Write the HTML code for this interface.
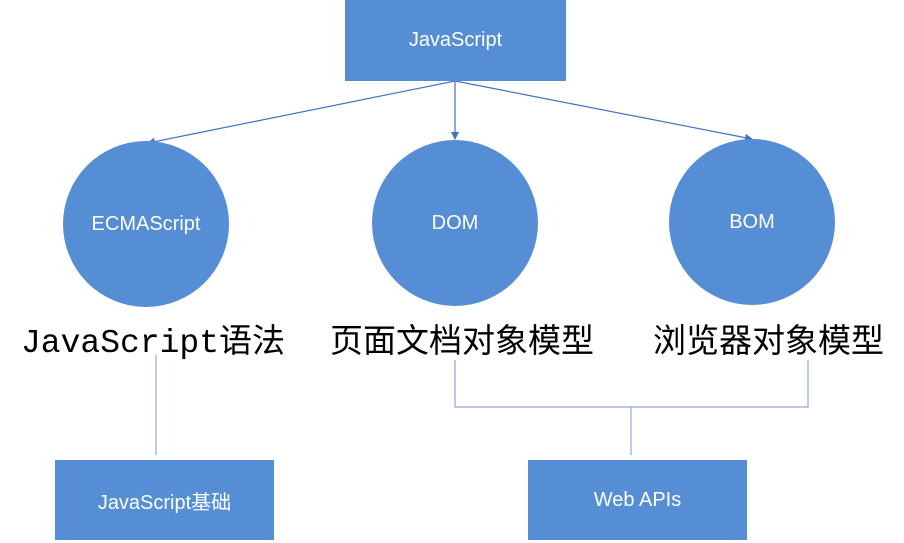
<!DOCTYPE html>
<html><head><meta charset="utf-8"><style>
body{margin:0;width:904px;height:543px;background:#fff;overflow:hidden;position:relative;font-family:"Liberation Sans","Noto Sans CJK SC",sans-serif}
.b{position:absolute;background:#558ED5;color:#fff;display:flex;align-items:center;justify-content:center;font-size:20px}
.c{position:absolute;background:#558ED5;color:#fff;border-radius:50%;display:flex;align-items:center;justify-content:center;font-size:20px}
.t{position:absolute;font-size:33px;color:#000;white-space:nowrap;font-family:"Noto Sans CJK SC",sans-serif}
</style></head><body>
<svg width="904" height="543" style="position:absolute;left:0;top:0">
<defs><marker id="a" markerWidth="8" markerHeight="8" refX="7" refY="4" orient="auto" markerUnits="userSpaceOnUse"><path d="M0,0L8,4L0,8z" fill="#4472C4"/></marker></defs>
<g stroke="#4472C4" stroke-width="1.2" fill="none">
<line x1="455" y1="81" x2="148" y2="143" marker-end="url(#a)"/>
<line x1="455" y1="81" x2="455" y2="139" marker-end="url(#a)"/>
<line x1="455" y1="81" x2="752" y2="139" marker-end="url(#a)"/>
</g>
<g stroke="#8EA9DB" stroke-width="1.2" fill="none">
<line x1="156" y1="355" x2="156" y2="455"/>
<polyline points="455,360 455,407 808,407 808,360"/>
<line x1="631" y1="407" x2="631" y2="455"/>
</g>
</svg>
<div class="b" style="left:345px;top:0;width:221px;height:81px">JavaScript</div>
<div class="c" style="left:63px;top:141px;width:166px;height:166px">ECMAScript</div>
<div class="c" style="left:372px;top:140px;width:166px;height:166px">DOM</div>
<div class="c" style="left:669px;top:139px;width:166px;height:166px">BOM</div>
<div class="t" style="left:21px;top:314px"><span style="font-family:'Liberation Mono',monospace;font-size:33px">JavaScript</span>语法</div>
<div class="t" style="left:330px;top:314px">页面文档对象模型</div>
<div class="t" style="left:653px;top:314px">浏览器对象模型</div>
<div class="b" style="left:55px;top:460px;width:219px;height:80px">JavaScript基础</div>
<div class="b" style="left:528px;top:460px;width:219px;height:80px">Web APIs</div>
</body></html>
